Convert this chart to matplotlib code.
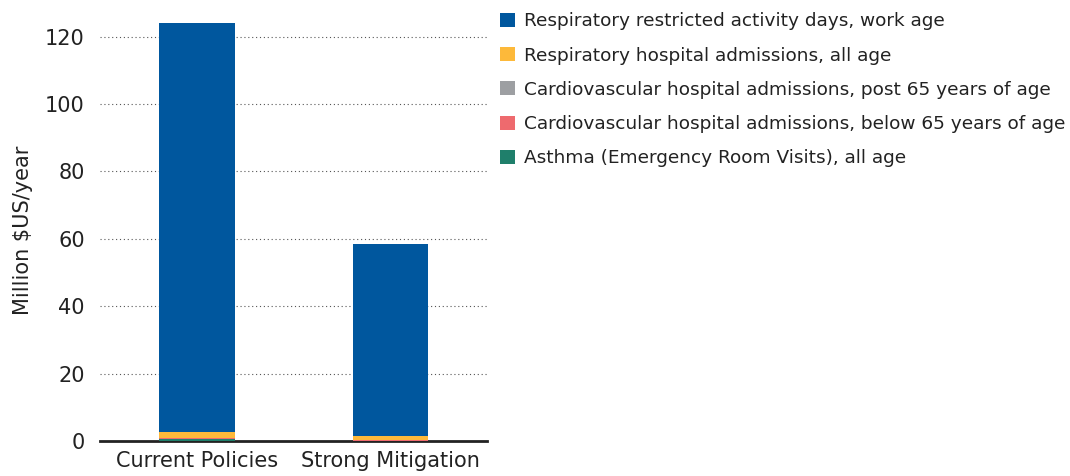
import numpy as np
import matplotlib.pyplot as plt

scenarios = ["Current Policies", "Strong Mitigation"]
labels = ["Respiratory restricted activity days, work age",
          "Respiratory hospital admissions, all age",
          "Cardiovascular hospital admissions, post 65 years of age",
          "Cardiovascular hospital admissions, below 65 years of age",
          "Asthma (Emergency Room Visits), all age"]
resp_days = [121.5, 56.8]
resp_hosp = [1.7, 1.3]
cardio_post65 = [0.08, 0.04]
cardio_below65 = [0.05, 0.03]
asthma = [0.7, 0.15]
colors = ["#00579e", "#fdb93a", "#9d9fa2", "#ee6a6e", "#1f7f6b"]

fig = plt.figure(figsize=(10.7, 4.76), dpi=100)
ax = fig.add_axes([0.0935, 0.0735, 0.3617, 0.885])

x = np.arange(len(scenarios))
# stack from the bottom: asthma, cardio <65, cardio 65+, resp hosp, resp days
stack = [asthma, cardio_below65, cardio_post65, resp_hosp, resp_days]
stack_cols = colors[::-1]
stack_labels = labels[::-1]
bottom = np.zeros(len(scenarios))
handles = {}
for vals, c, lab in zip(stack, stack_cols, stack_labels):
    b = ax.bar(x, vals, 0.39, bottom=bottom, color=c, label=lab, zorder=3)
    handles[lab] = b
    bottom += np.array(vals)

ax.set_xlim(-0.5, 1.5)
ax.set_ylim(0, 125)
ax.set_yticks([0, 20, 40, 60, 80, 100, 120])
ax.set_xticks(x)
ax.set_xticklabels(scenarios)
ax.tick_params(axis="both", length=0, labelsize=15, colors="#222222")
ax.tick_params(axis="y", pad=11)
ax.tick_params(axis="x", pad=7)
for yv in [20, 40, 60, 80, 100, 120]:
    ax.axhline(yv, color="#555555", linestyle=(0, (1, 2.5)), linewidth=0.8, zorder=1)
for s in ["top", "right", "left"]:
    ax.spines[s].set_visible(False)
ax.spines["bottom"].set_color("#222222")
ax.spines["bottom"].set_linewidth(2)
ax.set_ylabel("Million $US/year", fontsize=15, color="#222222", labelpad=9)

fig.legend([handles[l] for l in labels], labels, loc="upper left",
           bbox_to_anchor=(0.452, 1.009), frameon=False, fontsize=13.3,
           handlelength=0.8, handleheight=0.8, handletextpad=0.5,
           labelspacing=0.88, labelcolor="#222222")

plt.savefig("out.png", dpi=100)
